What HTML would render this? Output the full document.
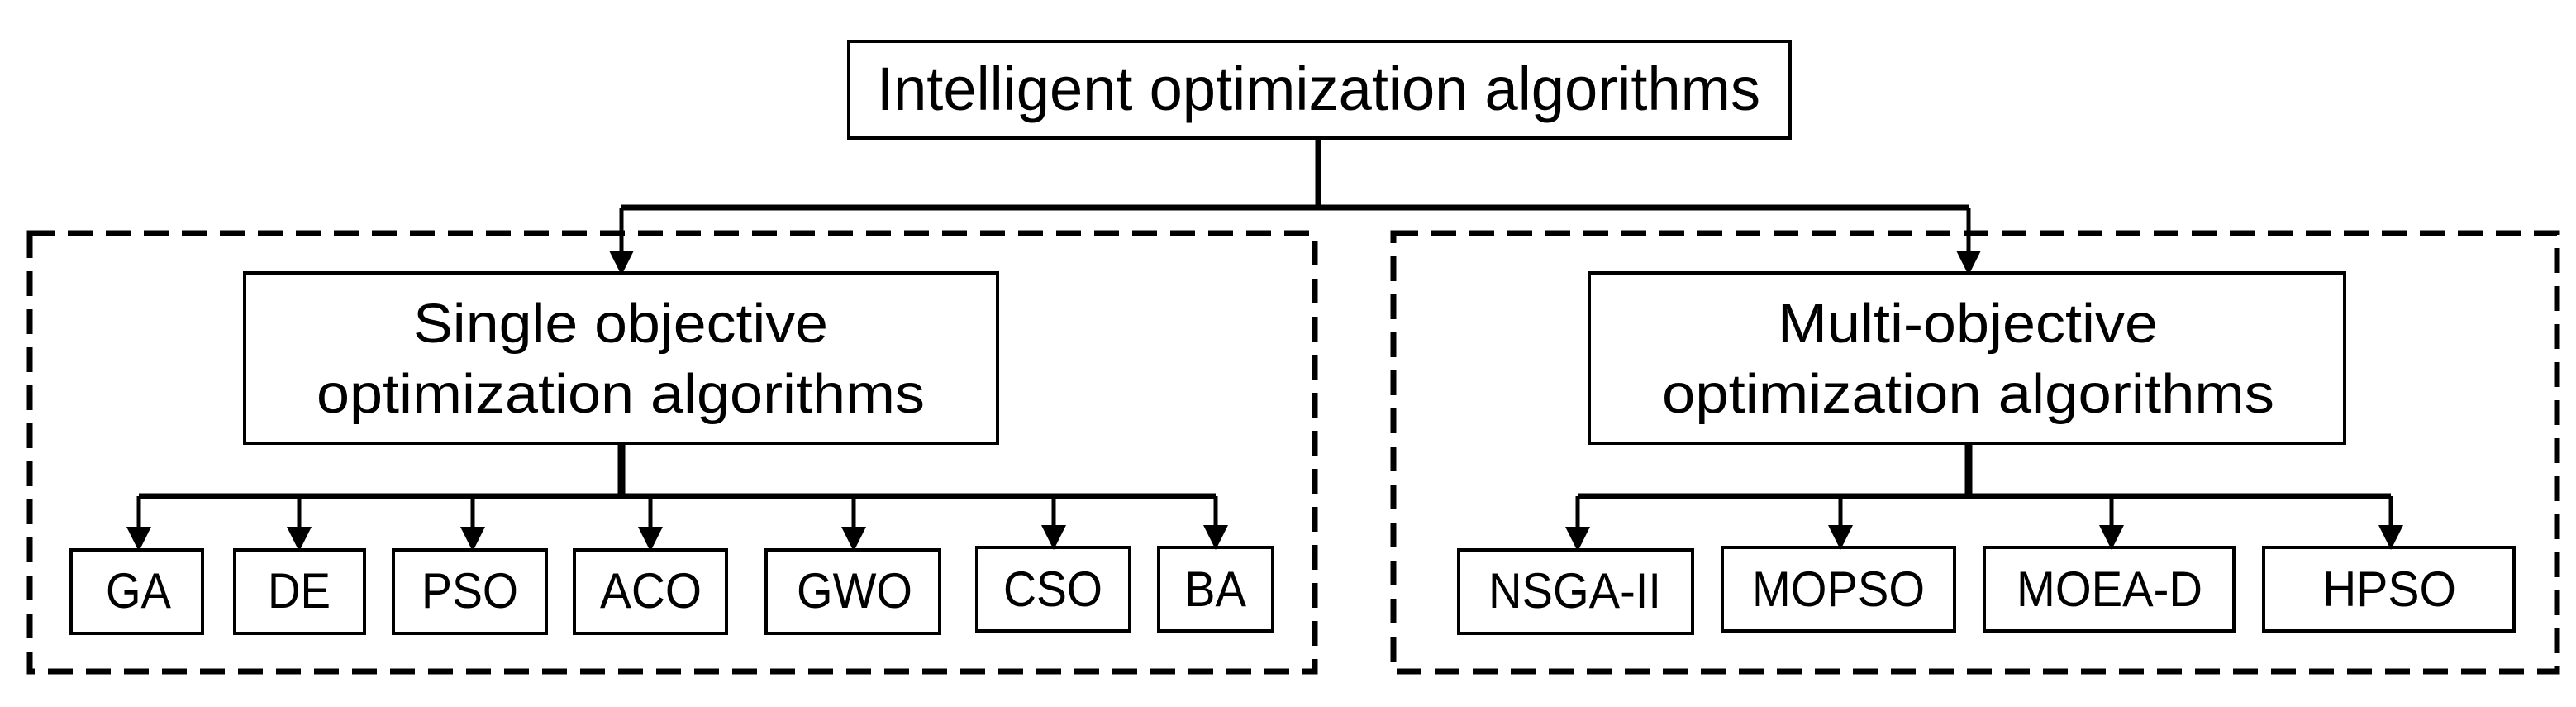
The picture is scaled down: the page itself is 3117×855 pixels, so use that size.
<!DOCTYPE html>
<html><head><meta charset="utf-8"><style>html,body{margin:0;padding:0;background:#fff}svg{display:block}</style></head>
<body>
<svg width="3117" height="855" viewBox="0 0 3117 855" xmlns="http://www.w3.org/2000/svg" font-family="Liberation Sans, Arial, sans-serif" fill="#000">
<defs>
<marker id="ah" markerWidth="6" markerHeight="6" refX="5" refY="3" orient="auto" markerUnits="strokeWidth"><path d="M0,0 L6,3 L0,6 z" fill="#000"/></marker>
</defs>
<g fill="none" stroke="#000">
<rect x="36" y="282" width="1555" height="530" stroke-width="7" stroke-dasharray="30,16"/>
<rect x="1686" y="282" width="1408" height="530" stroke-width="7" stroke-dasharray="30,16"/>
<rect x="1027" y="50" width="1139" height="117" stroke-width="4"/>
<rect x="296" y="330" width="911" height="206" stroke-width="4"/>
<rect x="1923" y="330" width="914" height="206" stroke-width="4"/>
<rect x="86" y="665" width="159" height="101" stroke-width="4"/>
<rect x="284" y="665" width="157" height="101" stroke-width="4"/>
<rect x="476" y="665" width="185" height="101" stroke-width="4"/>
<rect x="695" y="665" width="184" height="101" stroke-width="4"/>
<rect x="927" y="665" width="210" height="101" stroke-width="4"/>
<rect x="1182" y="662" width="185" height="101" stroke-width="4"/>
<rect x="1402" y="662" width="138" height="101" stroke-width="4"/>
<rect x="1765" y="665" width="283" height="101" stroke-width="4"/>
<rect x="2084" y="662" width="281" height="101" stroke-width="4"/>
<rect x="2401" y="662" width="302" height="101" stroke-width="4"/>
<rect x="2739" y="662" width="303" height="101" stroke-width="4"/>
<g stroke-width="7">
<path d="M1595 167 V251 M752 251 H2382"/>
<path d="M168 600 H1471 M1909 600 H2893"/>
<path d="M752 536 V600 M2382 536 V600" stroke-width="9"/>
</g>
<g stroke-width="5" marker-end="url(#ah)">
<path d="M752 251 V328"/>
<path d="M2382 251 V328"/>
<path d="M168 600 V662"/><path d="M362 600 V662"/><path d="M572 600 V662"/><path d="M787 600 V662"/><path d="M1033 600 V662"/><path d="M1275 600 V660"/><path d="M1471 600 V660"/>
<path d="M1909 600 V662"/><path d="M2227 600 V660"/><path d="M2555 600 V660"/><path d="M2893 600 V660"/>
</g>
</g>
<g>
<text x="1061" y="133" font-size="74" textLength="1069" lengthAdjust="spacingAndGlyphs">Intelligent optimization algorithms</text>
<text x="500" y="414" font-size="67" textLength="502" lengthAdjust="spacingAndGlyphs">Single objective</text>
<text x="383" y="499" font-size="67" textLength="736" lengthAdjust="spacingAndGlyphs">optimization algorithms</text>
<text x="2151" y="414" font-size="67" textLength="460" lengthAdjust="spacingAndGlyphs">Multi-objective</text>
<text x="2011" y="499" font-size="67" textLength="741" lengthAdjust="spacingAndGlyphs">optimization algorithms</text>
<g font-size="60">
<text x="128" y="735" textLength="79" lengthAdjust="spacingAndGlyphs">GA</text>
<text x="324" y="735" textLength="76" lengthAdjust="spacingAndGlyphs">DE</text>
<text x="510" y="735" textLength="117" lengthAdjust="spacingAndGlyphs">PSO</text>
<text x="726" y="735" textLength="123" lengthAdjust="spacingAndGlyphs">ACO</text>
<text x="964" y="735" textLength="140" lengthAdjust="spacingAndGlyphs">GWO</text>
<text x="1214" y="733" textLength="120" lengthAdjust="spacingAndGlyphs">CSO</text>
<text x="1433" y="733" textLength="75" lengthAdjust="spacingAndGlyphs">BA</text>
<text x="1801" y="735" textLength="209" lengthAdjust="spacingAndGlyphs">NSGA-II</text>
<text x="2120" y="733" textLength="209" lengthAdjust="spacingAndGlyphs">MOPSO</text>
<text x="2440" y="733" textLength="225" lengthAdjust="spacingAndGlyphs">MOEA-D</text>
<text x="2810" y="733" textLength="162" lengthAdjust="spacingAndGlyphs">HPSO</text>
</g>
</g>
</svg>
</body></html>
